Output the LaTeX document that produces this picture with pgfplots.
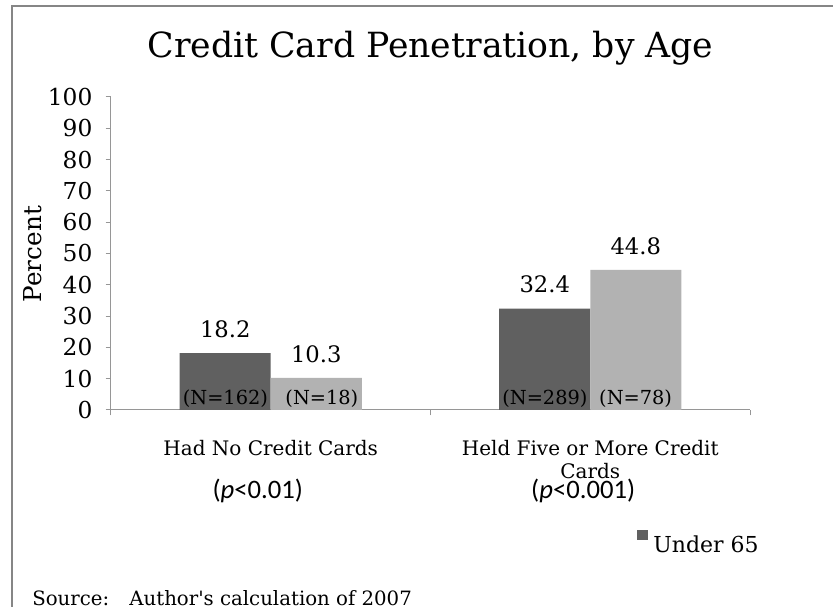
\documentclass[border=0pt]{standalone}
\usepackage{fontspec}
\setmainfont{DejaVu Serif}
\newfontfamily\calib{Carlito}
\newfontfamily\srcfont[Ligatures=TeXOff]{DejaVu Serif}
\usepackage{pgfplots}
\pgfplotsset{compat=1.18}
\definecolor{darkbar}{RGB}{96,96,96}
\definecolor{lightbar}{RGB}{178,178,178}
\definecolor{axisgray}{RGB}{150,150,150}
\definecolor{framegray}{RGB}{134,134,134}
\begin{document}
\begin{tikzpicture}
\useasboundingbox (0,0) rectangle (624.75pt,455.25pt);
\clip (0,0) rectangle (624.75pt,455.25pt);
\draw[framegray, line width=1.5pt] (9pt,-20pt) -- (9pt,451pt) -- (700pt,451pt);
\begin{axis}[
  at={(83.25pt,147.75pt)}, anchor=south west,
  scale only axis, width=479.25pt, height=234.75pt,
  xmin=-0.5, xmax=1.5, ymin=0, ymax=100,
  ybar=0pt, bar width=68.25pt,
  clip=false,
  axis x line=bottom, axis y line=left,
  axis line style={-, draw=axisgray, line width=0.75pt},
  tick style={draw=axisgray, line width=0.75pt},
  tick align=outside, major tick length=4pt,
  /pgf/number format/assume math mode=true,
  ytick={0,10,...,100},
  yticklabel style={font=\fontsize{17.5pt}{20pt}\selectfont, anchor=east, inner sep=0pt, xshift=-9.75pt},
  xtick={-0.5,0.5,1.5}, xticklabels={},
  extra x ticks={0,1},
  extra x tick labels={Had No Credit Cards, {Held Five or More Credit\\Cards}},
  extra x tick style={major tick length=0pt,
    xticklabel style={font=\fontsize{15pt}{17.5pt}\selectfont, align=center, anchor=north, inner sep=0pt, yshift=-22.5pt}},
  title={Credit Card Penetration, by Age},
  title style={at={(axis description cs:0.5,1.1022)}, anchor=base, inner sep=0pt, font=\fontsize{26pt}{30pt}\selectfont},
  ylabel={Percent},
  ylabel style={at={(axis description cs:-0.1221,0.498)}, anchor=center, font=\fontsize{18.5pt}{22pt}\selectfont},
  nodes near coords,
  every node near coord/.append style={font=\fontsize{17pt}{20pt}\selectfont, inner sep=0pt, anchor=south, yshift=11.25pt, text=black},
  legend style={at={(0.8232,-0.4227)}, anchor=west, draw=none, fill=none, inner sep=0pt,
    nodes={inner sep=0pt}, column sep=3.75pt, font=\fontsize{16.5pt}{20pt}\selectfont},
  legend cell align=left,
  legend image code/.code={\fill[#1,draw=none] (0pt,3.25pt) rectangle (8.25pt,10.75pt);},
]
\addplot[fill=darkbar, draw=none] coordinates {(0,18.2) (1,32.4)};
\addlegendentry{Under 65}
\addplot[fill=lightbar, draw=none] coordinates {(0,10.3) (1,44.8)};
\node[anchor=base, inner sep=0pt, font=\fontsize{14.5pt}{17pt}\selectfont] at (axis cs:-0.142,1.6) {(N=162)};
\node[anchor=base, inner sep=0pt, font=\fontsize{14.5pt}{17pt}\selectfont] at (axis cs:0.160,1.6) {(N=18)};
\node[anchor=base, inner sep=0pt, font=\fontsize{14.5pt}{17pt}\selectfont] at (axis cs:0.858,1.6) {(N=289)};
\node[anchor=base, inner sep=0pt, font=\fontsize{14.5pt}{17pt}\selectfont] at (axis cs:1.142,1.6) {(N=78)};
\node[inner sep=0pt, font=\calib\fontsize{20pt}{24pt}\selectfont] at (axis cs:-0.0406,-25.9) {(\textit{p}<0.01)};
\node[inner sep=0pt, font=\calib\fontsize{20pt}{24pt}\selectfont] at (axis cs:0.978,-25.9) {(\textit{p}<0.001)};
\end{axis}
\node[anchor=base west, inner sep=0pt, font=\srcfont\fontsize{14.8pt}{18pt}\selectfont] at (24pt,1pt) {Source:\hspace{0.6em} Author's calculation of 2007};
\end{tikzpicture}
\end{document}
